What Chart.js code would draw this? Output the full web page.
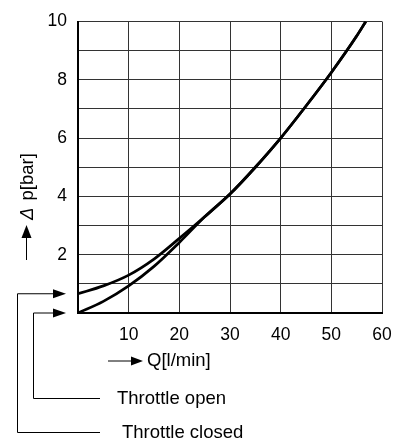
<!DOCTYPE html>
<html>
<head>
<meta charset="utf-8">
<script src="https://cdn.jsdelivr.net/npm/chart.js@4"></script>
<style>
    body { margin: 0; background: #fff; }
    .chart-container { width: 407px; height: 446px; position: relative; }
</style>
</head>
<body>
<div class="chart-container"><canvas id="dpChart"></canvas></div>
<script>
// Q [l/min] and p [bar]
const qOpen = [0, 5, 10, 15, 20, 25, 30, 35, 40, 45, 50, 55, 56.8];
const pOpen = [0, 0.4, 0.93, 1.6, 2.42, 3.3, 4.08, 5.0, 6.0, 7.1, 8.25, 9.5, 10];
const qClosed = [0, 5, 10, 15, 20, 25, 30, 35, 40, 45, 50, 55, 56.8];
const pClosed = [0.66, 0.93, 1.3, 1.85, 2.56, 3.3, 4.08, 5.0, 6.0, 7.1, 8.25, 9.5, 10];

const xTicks = [10, 20, 30, 40, 50, 60];
const yTicks = [2, 4, 6, 8, 10];

const labelFont = '18.5px "Liberation Sans", Arial, sans-serif';

const toPoints = (qs, ps) => qs.map((q, i) => ({ x: q, y: ps[i] }));

const arrowHead = (ctx, x, y, dir, len, half) => {
    ctx.beginPath();
    if (dir === "right") {
        ctx.moveTo(x, y);
        ctx.lineTo(x - len, y - half);
        ctx.lineTo(x - len, y + half);
    } else {
        ctx.moveTo(x, y);
        ctx.lineTo(x - half, y + len);
        ctx.lineTo(x + half, y + len);
    }
    ctx.closePath();
    ctx.fill();
};

const annotations = {
    id: "annotations",
    afterDraw(chart) {
        const ctx = chart.ctx;
        const yScale = chart.scales.y;
        const left = chart.chartArea.left;
        ctx.save();
        ctx.strokeStyle = "#000";
        ctx.fillStyle = "#000";
        ctx.lineWidth = 1;

        // y axis title with arrow
        ctx.beginPath();
        ctx.moveTo(26.5, 260);
        ctx.lineTo(26.5, 236);
        ctx.stroke();
        arrowHead(ctx, 26.5, 225, "up", 13, 5);
        ctx.save();
        ctx.translate(33, 220);
        ctx.rotate(-Math.PI / 2);
        ctx.textBaseline = "alphabetic";
        ctx.textAlign = "left";
        ctx.font = 'italic ' + labelFont;
        ctx.fillText("Δ", 0, 0);
        const dw = ctx.measureText("Δ").width;
        ctx.font = labelFont;
        ctx.fillText(" p[bar]", dw + 2, 0);
        ctx.restore();

        // x axis title with arrow
        ctx.beginPath();
        ctx.moveTo(108, 361);
        ctx.lineTo(132, 361);
        ctx.stroke();
        arrowHead(ctx, 143, 361, "right", 12, 4.5);
        ctx.font = labelFont;
        ctx.textBaseline = "middle";
        ctx.textAlign = "left";
        ctx.fillText("Q[l/min]", 147, 361);

        // leaders to the curve starts
        const yC = yScale.getPixelForValue(pClosed[0]);
        const yO = yScale.getPixelForValue(pOpen[0]);
        const tipX = left - 12;

        ctx.beginPath();
        ctx.moveTo(100, 398.5);
        ctx.lineTo(33.5, 398.5);
        ctx.lineTo(33.5, yO);
        ctx.lineTo(tipX - 12, yO);
        ctx.stroke();
        arrowHead(ctx, tipX, yO, "right", 13, 4.5);

        ctx.beginPath();
        ctx.moveTo(100, 432.5);
        ctx.lineTo(17.5, 432.5);
        ctx.lineTo(17.5, yC);
        ctx.lineTo(tipX - 12, yC);
        ctx.stroke();
        arrowHead(ctx, tipX, yC, "right", 13, 4.5);

        ctx.fillText("Throttle open", 117, 399);
        ctx.fillText("Throttle closed", 122, 433);
        ctx.restore();
    },
};

const ctx = document.getElementById("dpChart").getContext("2d");

window.dpChart = new Chart(ctx, {
    type: "line",
    data: {
        datasets: [
            {
                label: "Throttle open",
                data: toPoints(qOpen, pOpen),
                borderColor: "#000",
                borderWidth: 2.7,
                pointRadius: 0,
                cubicInterpolationMode: "monotone",
            },
            {
                label: "Throttle closed",
                data: toPoints(qClosed, pClosed),
                borderColor: "#000",
                borderWidth: 2.7,
                pointRadius: 0,
                cubicInterpolationMode: "monotone",
            },
        ],
    },
    options: {
        responsive: true,
        maintainAspectRatio: false,
        animation: false,
        layout: {
            padding: { top: 10, right: 25, left: 0, bottom: 0 },
        },
        scales: {
            x: {
                type: "linear",
                min: 0,
                max: 60,
                afterFit: (scale) => { scale.height = 133; },
                ticks: {
                    stepSize: 10,
                    color: "#000",
                    padding: 12,
                    font: { family: '"Liberation Sans", Arial, sans-serif', size: 17.5 },
                    callback: (v) => (xTicks.includes(v) ? v : ""),
                },
                grid: { color: "#333", lineWidth: 1, drawTicks: false },
                border: { color: "#000", width: 2 },
            },
            y: {
                min: 0,
                max: 10,
                afterFit: (scale) => { scale.width = 78; },
                ticks: {
                    stepSize: 1,
                    color: "#000",
                    padding: 11,
                    font: { family: '"Liberation Sans", Arial, sans-serif', size: 17.5 },
                    callback: (v) => (yTicks.includes(v) ? v : ""),
                },
                grid: { color: "#333", lineWidth: 1, drawTicks: false },
                border: { color: "#000", width: 2 },
            },
        },
        plugins: {
            legend: { display: false },
            tooltip: { enabled: false },
        },
    },
    plugins: [annotations],
});
</script>
</body>
</html>
